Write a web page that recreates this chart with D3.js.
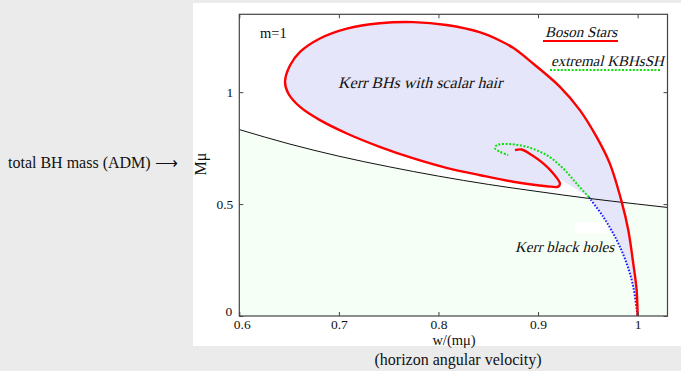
<!DOCTYPE html>
<html>
<head>
<meta charset="utf-8">
<script src="https://cdn.jsdelivr.net/npm/d3@7"></script>
<style>
  html, body { margin: 0; padding: 0; background: #ebebeb; }
  svg { display: block; }
  text { font-family: "Liberation Serif", "Times New Roman", serif; fill: #111; }
</style>
</head>
<body>
<div id="viz"></div>
<script>
// values: w/(m mu) and M mu
const bosonW = [1.0, 0.999, 0.9956, 0.9906, 0.984, 0.972, 0.9588, 0.942, 0.922, 0.895, 0.875, 0.862,
  0.842, 0.808, 0.775, 0.741, 0.708, 0.681, 0.661, 0.651, 0.6459, 0.6492, 0.661, 0.681, 0.708, 0.741,
  0.775, 0.808, 0.842, 0.875, 0.9086, 0.9203, 0.922, 0.9153, 0.9052, 0.8936, 0.8835, 0.8768];
const bosonM = [0, 0.116, 0.235, 0.384, 0.51, 0.682, 0.80, 0.92, 1.024, 1.128, 1.198, 1.23,
  1.267, 1.300, 1.313, 1.308, 1.284, 1.24, 1.18, 1.12, 1.046, 0.994, 0.934, 0.875, 0.8155, 0.756,
  0.704, 0.662, 0.629, 0.600, 0.58, 0.578, 0.592, 0.637, 0.682, 0.719, 0.744, 0.741];

const extremalW = [0.951, 0.9387, 0.9253, 0.9086, 0.8886, 0.8718, 0.8584, 0.8567, 0.8617, 0.87];
const extremalM = [0.531, 0.592, 0.659, 0.719, 0.756, 0.768, 0.763, 0.749, 0.734, 0.719];

const existW = [0.951, 0.9655, 0.979, 0.989, 0.9956, 0.9996, 1.0];
const existM = [0.531, 0.443, 0.339, 0.235, 0.131, 0.012, 0];

const kerrW = [0.6, 0.65, 0.7, 0.75, 0.8, 0.85, 0.9, 0.95, 1.0, 1.03];
const kerrM = [0.833, 0.769, 0.714, 0.667, 0.625, 0.588, 0.556, 0.526, 0.5, 0.485];

const xTicks = [0.6, 0.7, 0.8, 0.9, 1];
const xTickLabels = ["0.6", "0.7", "0.8", "0.9", "1"];
const yTicks = [0, 0.5, 1];
const yTickLabels = ["0", "0.5", "1"];

const W = 681, H = 371;
const box = { left: 239.3, right: 667.5, top: 14.3, bottom: 316 };

const zip = (a, b) => a.map((v, i) => [v, b[i]]);
const boson = zip(bosonW, bosonM);
const extremal = zip(extremalW, extremalM);
const exist = zip(existW, existM);
const kerr = zip(kerrW, kerrM);

const svg = d3.select("#viz").append("svg").attr("width", W).attr("height", H);

// white slide panel
svg.append("rect").attr("x", 193).attr("y", 3).attr("width", W - 193).attr("height", 343).attr("fill", "#fff");

const x = d3.scaleLinear().domain([0.6, 1.03]).range([box.left, box.right]);
const y = d3.scaleLinear().domain([0, 1.348]).range([box.bottom, box.top]);

const smooth = d3.line().x(d => x(d[0])).y(d => y(d[1])).curve(d3.curveCatmullRom.alpha(0.5));
const kerrLine = d3.line().x(d => x(d[0])).y(d => y(d[1])).curve(d3.curveMonotoneX);

const plot = svg.append("g");

// Kerr region below the extremal Kerr line
plot.append("path")
  .datum(kerr)
  .attr("fill", "#f5fff5")
  .attr("d", d3.area().x(d => x(d[0])).y0(y(0)).y1(d => y(d[1])).curve(d3.curveMonotoneX));

// hairy BH region: boson star curve, then existence line back to (1,0)
plot.append("path")
  .attr("fill", "#e6e6fa")
  .attr("d", smooth(boson) + smooth(exist).replace(/^M/, "L") + "Z");

// little white box under the Kerr label
plot.append("rect")
  .attr("x", x(0.937)).attr("y", y(0.418))
  .attr("width", x(0.969) - x(0.937)).attr("height", y(0.37) - y(0.418))
  .attr("fill", "#fff");

plot.append("path").datum(kerr)
  .attr("fill", "none").attr("stroke", "#111").attr("stroke-width", 1)
  .attr("d", kerrLine);

plot.append("path").datum(exist)
  .attr("fill", "none").attr("stroke", "#1a1aff").attr("stroke-width", 2)
  .attr("stroke-dasharray", "1.6,1.6")
  .attr("d", smooth);

plot.append("path").datum(extremal)
  .attr("fill", "none").attr("stroke", "#11dd11").attr("stroke-width", 2)
  .attr("stroke-dasharray", "2,1.6")
  .attr("d", smooth);

plot.append("path").datum(boson)
  .attr("fill", "none").attr("stroke", "#ff0000").attr("stroke-width", 2.4)
  .attr("stroke-linejoin", "round")
  .attr("d", smooth);

// frame and inward ticks on all sides
const styleAxis = g => {
  g.select(".domain").remove();
  g.selectAll("line").attr("stroke", "#444");
  g.selectAll("text").attr("fill", "#111").attr("font-family", "Liberation Serif, serif").attr("font-size", 13.5);
};
const xAxis = svg.append("g").attr("transform", `translate(0,${box.bottom})`)
  .call(d3.axisBottom(x).tickValues(xTicks).tickFormat((d, i) => xTickLabels[i]).tickSizeInner(-4).tickSizeOuter(0).tickPadding(3))
  .call(styleAxis);
svg.append("g").attr("transform", `translate(0,${box.top})`)
  .call(d3.axisTop(x).tickValues(xTicks).tickFormat("").tickSizeInner(-4).tickSizeOuter(0))
  .call(styleAxis);
const yAxis = svg.append("g").attr("transform", `translate(${box.left},0)`)
  .call(d3.axisLeft(y).tickValues(yTicks).tickFormat((d, i) => yTickLabels[i]).tickSizeInner(-4).tickSizeOuter(0).tickPadding(6))
  .call(styleAxis);
svg.append("g").attr("transform", `translate(${box.right},0)`)
  .call(d3.axisRight(y).tickValues(yTicks).tickFormat("").tickSizeInner(-4).tickSizeOuter(0))
  .call(styleAxis);

// the corner labels sit a bit apart, as in the original
xAxis.selectAll(".tick text").filter((d, i) => i === 0).attr("dx", 2.5);
yAxis.selectAll(".tick text").filter((d, i) => i === 0).attr("dy", "-0.05em").attr("dx", -1);

svg.append("rect")
  .attr("x", box.left).attr("y", box.top)
  .attr("width", box.right - box.left).attr("height", box.bottom - box.top)
  .attr("fill", "none").attr("stroke", "#444").attr("stroke-width", 1.2);

// italic labels: slanted serif
const slanted = (px, py, size, str) =>
  svg.append("text").attr("transform", `translate(${px},${py}) skewX(-14)`)
    .attr("font-size", size).text(str);

svg.append("text").attr("x", 260).attr("y", 38).attr("font-size", 14.5).text("m=1");
slanted(338, 88, 16, "Kerr BHs with scalar hair");
slanted(515, 252, 15, "Kerr black holes");

slanted(545, 37, 15, "Boson Stars");
svg.append("line").attr("x1", 543).attr("x2", 618).attr("y1", 41).attr("y2", 41)
  .attr("stroke", "#ff0000").attr("stroke-width", 2.2);
slanted(551, 66, 15, "extremal KBHsSH");
svg.append("line").attr("x1", 550).attr("x2", 661).attr("y1", 70).attr("y2", 70)
  .attr("stroke", "#11dd11").attr("stroke-width", 2).attr("stroke-dasharray", "2,1.6");

svg.append("text").attr("x", 454).attr("y", 344.5).attr("font-size", 14.5).attr("text-anchor", "middle")
  .text("w/(mμ)");
svg.append("text").attr("transform", "translate(206,164) rotate(-90)")
  .attr("font-size", 16).attr("text-anchor", "middle").text("Mμ");

svg.append("text").attr("x", 8).attr("y", 168).attr("font-size", 16)
  .text("total BH mass (ADM) ⟶");
svg.append("text").attr("x", 458).attr("y", 365).attr("font-size", 16).attr("text-anchor", "middle")
  .text("(horizon angular velocity)");
</script>
</body>
</html>
